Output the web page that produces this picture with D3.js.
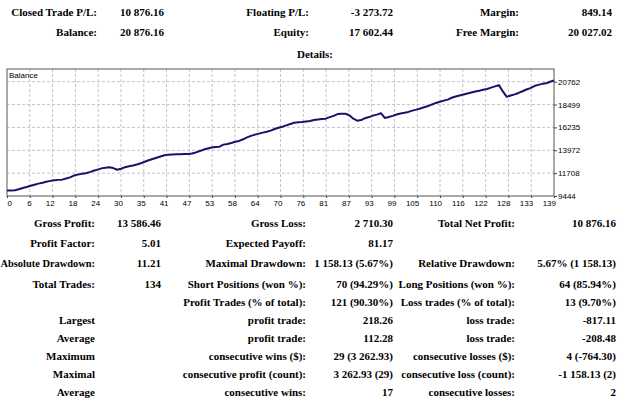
<!DOCTYPE html>
<html lang="en"><head>
<meta charset="utf-8">
<title>Strategy report - Balance</title>
<script src="https://d3js.org/d3.v7.min.js"></script>
<style>
  body { margin: 0; background: #fff; }
  .rep text { font-family: "Liberation Serif", serif; font-weight: bold; font-size: 11px; fill: #000; }
  .axis text { font-family: "Liberation Sans", sans-serif; font-size: 8px; fill: #000; }
  .axis path { display: none; }
  .axis line { stroke: #444; }
</style>
<script>
// balance after each trade
const balance = [
  10000, 9989, 10011, 10120, 10230, 10340, 10452, 10560, 10668, 10752,
  10855, 10941, 11010, 11041, 11065, 11170, 11290, 11470, 11560, 11640,
  11700, 11810, 11939, 12060, 12180, 12250, 12290, 12210, 12040, 12140,
  12300, 12390, 12470, 12560, 12690, 12840, 12980, 13107, 13230, 13360,
  13480, 13540, 13560, 13570, 13580, 13595, 13610, 13660, 13760, 13900,
  14040, 14150, 14240, 14300, 14330, 14530, 14600, 14700, 14810, 14900,
  15060, 15250, 15400, 15520, 15620, 15720, 15800, 15920, 16080, 16200,
  16310, 16440, 16570, 16690, 16750, 16780, 16830, 16880, 16960, 17020,
  17060, 17100, 17250, 17380, 17560, 17600, 17590, 17430, 17100, 16900,
  16960, 17150, 17260, 17400, 17500, 17640, 17170, 17260, 17380, 17520,
  17610, 17680, 17770, 17900, 18000, 18110, 18230, 18350, 18510, 18660,
  18780, 18890, 18990, 19170, 19290, 19400, 19500, 19600, 19700, 19790,
  19870, 19960, 20040, 20180, 20300, 20422, 19800, 19264, 19400, 19510,
  19650, 19820, 19990, 20130, 20330, 20450, 20550, 20600, 20760, 20876
];
const xTickLabels = ["0","6","12","18","24","30","35","41","47","53","58","64","70",
  "76","81","87","93","99","105","110","116","122","128","133","139"];
const yTicks = [9444, 11708, 13972, 16235, 18499, 20762];
const yMax = 22020;

const headerRows = [
  ["Closed Trade P/L:", "10 876.16", "Floating P/L:", "-3 273.72", "Margin:", "849.14"],
  ["Balance:", "20 876.16", "Equity:", "17 602.44", "Free Margin:", "20 027.02"]
];
const statRows = [
  ["Gross Profit:", "13 586.46", "Gross Loss:", "2 710.30", "Total Net Profit:", "10 876.16"],
  ["Profit Factor:", "5.01", "Expected Payoff:", "81.17", "", ""],
  ["Absolute Drawdown:", "11.21", "Maximal Drawdown:", "1 158.13 (5.67%)", "Relative Drawdown:", "5.67% (1 158.13)"],
  ["Total Trades:", "134", "Short Positions (won %):", "70 (94.29%)", "Long Positions (won %):", "64 (85.94%)"],
  ["", "", "Profit Trades (% of total):", "121 (90.30%)", "Loss trades (% of total):", "13 (9.70%)"],
  ["Largest", "", "profit trade:", "218.26", "loss trade:", "-817.11"],
  ["Average", "", "profit trade:", "112.28", "loss trade:", "-208.48"],
  ["Maximum", "", "consecutive wins ($):", "29 (3 262.93)", "consecutive losses ($):", "4 (-764.30)"],
  ["Maximal", "", "consecutive profit (count):", "3 262.93 (29)", "consecutive loss (count):", "-1 158.13 (2)"],
  ["Average", "", "consecutive wins:", "17", "consecutive losses:", "2"]
];

const width = 625, height = 407;
const plot = {left: 7, right: 554, top: 69, bottom: 196};
const headerCols = [97, 164, 309, 393, 519, 612];
const statCols = [95, 161, 306, 393, 515, 616];
const headerY = [16, 35.5];
const statY = [227, 247, 267, 288, 306, 324, 342, 360, 378, 396];

const drawTable = (svg, rows, cols, ys) => {
  const g = svg.append("g").attr("class", "rep");
  rows.forEach((r, i) => {
    g.selectAll(null)
      .data(r)
      .enter()
      .append("text")
      .attr("x", (d, j) => cols[j])
      .attr("y", ys[i])
      .attr("text-anchor", "end")
      .text(d => d)
      .each(function(d, j) {
        // squeeze a label that would run past the left edge
        const len = this.getComputedTextLength();
        if (cols[j] - len < 0) {
          d3.select(this).attr("textLength", cols[j] - 0.5).attr("lengthAdjust", "spacingAndGlyphs");
        }
      });
  });
};

const drawChart = (svg) => {
  const x = d3.scaleLinear().domain([0, balance.length - 1]).range([plot.left, plot.right]);
  const xGrid = d3.scalePoint().domain(xTickLabels).range([plot.left, plot.right]);
  const y = d3.scaleLinear().domain([yTicks[0], yMax]).range([plot.bottom, plot.top]);

  // grid
  svg.append("g").selectAll("line")
    .data(xTickLabels.slice(1, -1))
    .enter().append("line")
    .attr("x1", d => xGrid(d)).attr("x2", d => xGrid(d))
    .attr("y1", plot.top).attr("y2", plot.bottom)
    .attr("stroke", "#c4c4c4").attr("stroke-dasharray", "3,2");
  svg.append("g").selectAll("line")
    .data(yTicks.slice(1))
    .enter().append("line")
    .attr("x1", plot.left).attr("x2", plot.right)
    .attr("y1", d => y(d)).attr("y2", d => y(d))
    .attr("stroke", "#c4c4c4").attr("stroke-dasharray", "3,2");

  // frame
  svg.append("rect")
    .attr("x", plot.left).attr("y", plot.top)
    .attr("width", plot.right - plot.left).attr("height", plot.bottom - plot.top)
    .attr("fill", "none").attr("stroke", "#555");

  // x axis
  const xAxis = d3.axisBottom(xGrid).tickSize(2).tickPadding(2);
  const gx = svg.append("g").attr("class", "axis")
    .attr("transform", "translate(0," + plot.bottom + ")")
    .call(xAxis);
  gx.selectAll("text")
    .attr("text-anchor", (d, i) => i === 0 ? "start" : "end")
    .attr("dx", (d, i) => i === 0 ? 0 : 1.5);

  // y axis
  const yAxis = d3.axisRight(y).tickValues(yTicks).tickFormat(d3.format("d")).tickSize(3).tickPadding(1);
  svg.append("g").attr("class", "axis")
    .attr("transform", "translate(" + plot.right + ",0)")
    .call(yAxis);

  svg.append("text")
    .attr("x", plot.left + 2).attr("y", plot.top + 9)
    .attr("font-family", "Liberation Sans, sans-serif")
    .attr("font-size", "8px")
    .text("Balance");

  const line = d3.line().x((d, i) => x(i)).y(d => y(d));
  svg.append("path")
    .datum(balance)
    .attr("d", line)
    .attr("fill", "none")
    .attr("stroke", "#14146b")
    .attr("stroke-width", 2)
    .attr("stroke-linejoin", "round");
};
</script>
</head>
<body>
<script>
  const svg = d3.select("body").append("svg")
    .attr("width", width).attr("height", height);

  drawTable(svg, headerRows, headerCols, headerY);
  svg.append("text")
    .attr("class", "rep")
    .attr("x", 315).attr("y", 58)
    .attr("text-anchor", "middle")
    .attr("font-family", "Liberation Serif, serif")
    .attr("font-weight", "bold")
    .attr("font-size", "11px")
    .text("Details:");
  drawChart(svg);
  drawTable(svg, statRows, statCols, statY);
</script>
</body></html>
